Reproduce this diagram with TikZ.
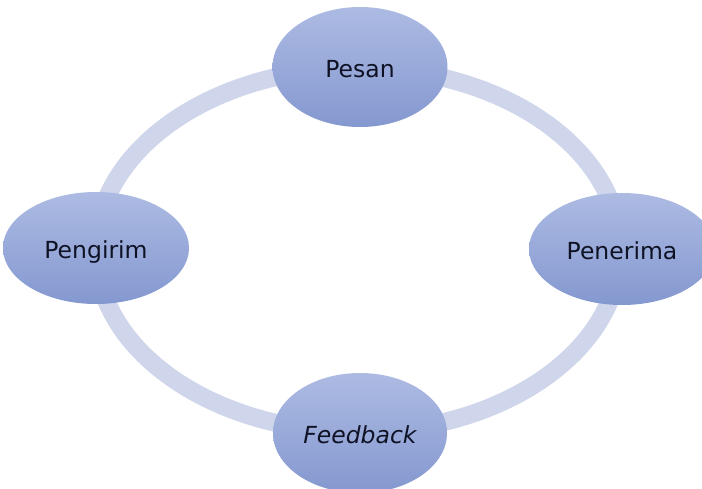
\documentclass[tikz,border=0pt]{standalone}
\usepackage{fontspec}
\setmainfont{DejaVu Sans}
\usetikzlibrary{shapes.geometric}
\definecolor{ringc}{HTML}{CFD6EC}
\definecolor{topc}{HTML}{ADBBE3}
\definecolor{botc}{HTML}{8498D0}
\definecolor{txtc}{HTML}{0E1224}
\tikzset{
  bubble/.style={ellipse, top color=topc, bottom color=botc, draw=none,
    inner sep=0pt, text=txtc, text height=20pt, text depth=0pt,
    font=\fontsize{23.5}{28}\selectfont},
  ringline/.style={draw=ringc, line width=18pt}
}
\begin{document}
\begin{tikzpicture}[x=1pt,y=-1pt]
\useasboundingbox[fill=white] (0,0) rectangle (702,488);
\draw[ringline] (358,250) ellipse (262 and 182);
\node[bubble, minimum width=175, minimum height=120] (pesan) at (360,67) {Pesan};
\node[bubble, minimum width=186, minimum height=112] (pengirim) at (96,248) {Pengirim};
\node[bubble, minimum width=186, minimum height=112] (penerima) at (622,249) {Penerima};
\node[bubble, minimum width=174, minimum height=120] (feedback) at (360,433) {\itshape Feedback};
\end{tikzpicture}
\end{document}
